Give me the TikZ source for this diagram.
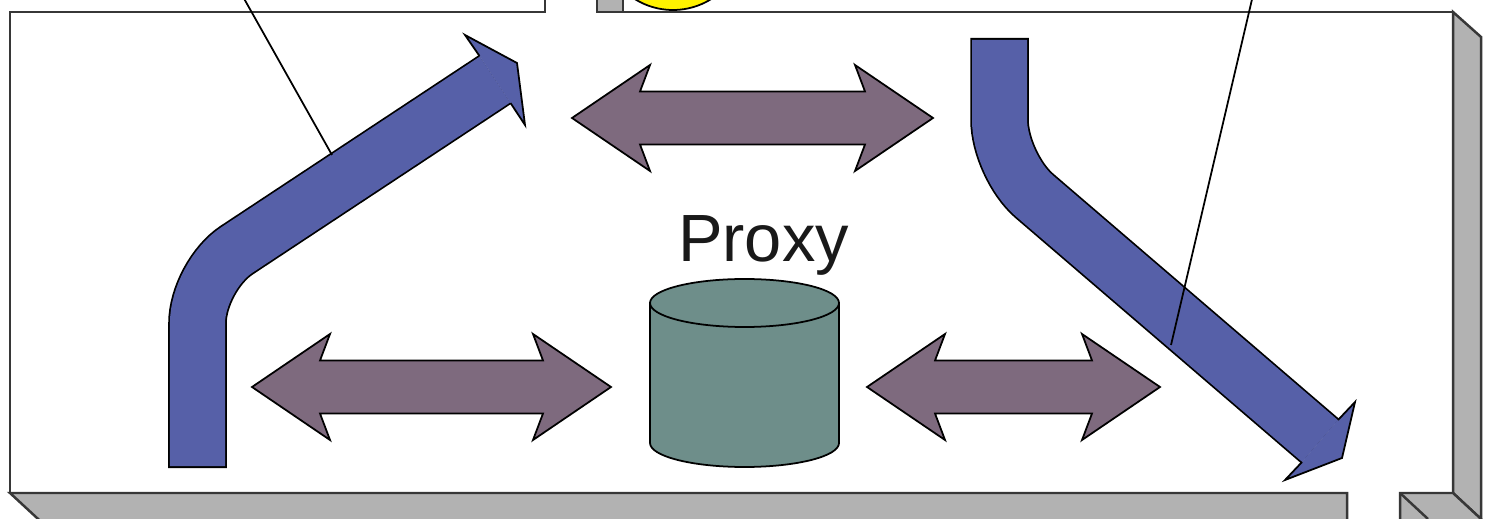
\documentclass[tikz,border=0pt]{standalone}
\usepackage{fontspec}
\setmainfont{Liberation Sans}
\usetikzlibrary{calc}
\definecolor{flowblue}{RGB}{86,96,168}
\definecolor{linkmauve}{RGB}{126,106,126}
\definecolor{cachegreen}{RGB}{110,142,138}
\definecolor{wallgray}{RGB}{178,178,178}
\definecolor{edgegray}{RGB}{55,55,55}
\tikzset{
  wall/.style={draw=edgegray, line width=0.7pt},
  wallface/.style={wall, fill=wallgray},
  flowout/.style={black, line width=0.585cm, rounded corners=#1},
  flowin/.style={flowblue, line width=0.55cm, rounded corners=#1},
  flowhead/.style={fill=flowblue, draw=black, line width=0.5pt},
  link/.style={fill=linkmauve, draw=black, line width=0.5pt},
  cyl/.style={fill=cachegreen, draw=black, line width=0.5pt},
  lead/.style={black, line width=0.5pt},
  sun/.style={fill=yellow, draw=black, line width=0.5pt},
  tag/.style={font=\fontsize{19}{23}\selectfont, text=black!90, inner sep=0pt},
}
\begin{document}
\begin{tikzpicture}[x=0.01cm, y=-0.01cm]
  \useasboundingbox (0,0) rectangle (1489,519);
  \clip (0,0) rectangle (1489,519);
  \fill[white] (0,0) rectangle (1489,519);

  % walls of the box
  \draw[wall] (10,493) -- (10,12) -- (545,12) -- (545,-5);
  \filldraw[wallface] (597,-5) rectangle (623,12);
  \filldraw[sun] (673,-62) circle[radius=72];
  \draw[wall] (623,12) -- (1453,12) -- (1453,493);
  \filldraw[wallface] (1453,12) -- (1481,37) -- (1481,519) -- (1453,493) -- cycle;
  \filldraw[wallface] (1400,530) -- (1400,493) -- (1453,493) -- (1481,519) -- (1481,530) -- cycle;
  \draw[wall] (1400,493) -- (1428,519);
  \filldraw[wallface] (10,493) -- (1347,493) -- (1347,530) -- (50,530) -- cycle;

  % incoming flow
  \coordinate (inStart) at (197.5,468);
  \coordinate (inBend) at (197.5,276);
  \coordinate (inEnd) at (495,79.5);
  \draw[flowout=0.47cm] (inStart) -- (inBend) -- (inEnd);
  \draw[flowin=0.47cm] ($(inStart)+(0,-2)$) -- (inBend) -- (inEnd);
  \filldraw[flowhead] (479.5,56) -- (465,35) -- (517,63) -- (525,125) -- (510.5,103);

  % outgoing flow
  \coordinate (outStart) at (999.5,38);
  \coordinate (outBend) at (999.5,166);
  \coordinate (outEnd) at (1320,441);
  \draw[flowout=0.46cm] (outStart) -- (outBend) -- (outEnd);
  \draw[flowin=0.46cm] ($(outStart)+(0,2)$) -- (outBend) -- (outEnd);
  \filldraw[flowhead] (1338,420) -- (1355,402) -- (1342,458) -- (1285,480) -- (1302,462);

  \foreach \xl/\xr/\yc in {572/933/118, 252/611/387, 867/1160/387}
    \filldraw[link] (\xl,\yc) -- ({\xl+78},{\yc-53}) -- ({\xl+68},{\yc-26.5})
      -- ({\xr-68},{\yc-26.5}) -- ({\xr-78},{\yc-53}) -- (\xr,\yc)
      -- ({\xr-78},{\yc+53}) -- ({\xr-68},{\yc+26.5}) -- ({\xl+68},{\yc+26.5})
      -- ({\xl+78},{\yc+53}) -- cycle;

  % proxy cache
  \coordinate (cacheTop) at (744.5,303);
  \filldraw[cyl] (650,303) -- (650,443)
    arc[start angle=180, end angle=0, x radius=94.5, y radius=24] -- (839,303) -- cycle;
  \filldraw[cyl] (cacheTop) ellipse[x radius=94.5, y radius=24];
  \node[tag, anchor=base] (proxylabel) at (763.5,262) {Proxy};

  % callout lines
  \coordinate (calloutIn) at (242,-5);
  \coordinate (calloutOut) at (1253,-5);
  \coordinate (inTouch) at (332,155);
  \coordinate (outTouch) at (1171,345);
  \draw[lead] (calloutIn) -- (inTouch);
  \draw[lead] (calloutOut) -- (outTouch);
\end{tikzpicture}
\end{document}
